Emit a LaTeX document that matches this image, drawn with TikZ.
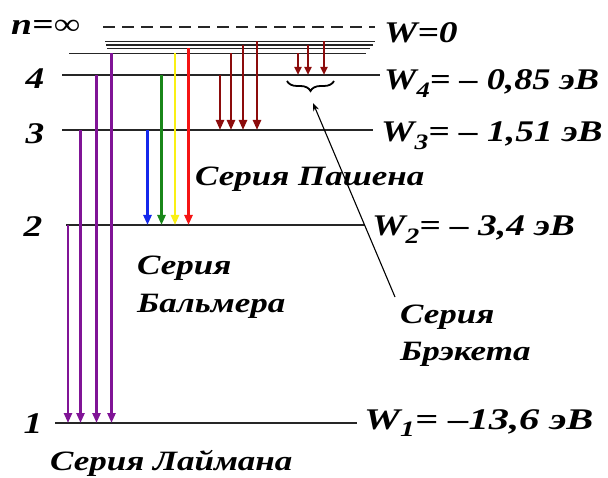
\documentclass[tikz,border=0pt]{standalone}
\usepackage{fontspec}
\setmainfont[FakeStretch=1.25]{Liberation Serif}
\usetikzlibrary{arrows.meta,decorations.pathreplacing}
\newcommand{\wsub}[1]{W\raisebox{-0.24em}{\fontsize{22}{22}\selectfont #1}}
\definecolor{lymanc}{RGB}{128,20,150}
\definecolor{paschc}{RGB}{140,12,12}
\definecolor{balb}{RGB}{20,40,235}
\definecolor{balg}{RGB}{25,135,25}
\definecolor{baly}{RGB}{250,240,20}
\definecolor{balr}{RGB}{245,20,20}
\begin{document}
\begin{tikzpicture}[x=1pt,y=-1pt,
  level/.style={line width=2pt,black!85},
  thin level/.style={line width=1.6pt,black!85},
  lab/.style={font=\fontsize{30}{30}\selectfont\bfseries\itshape, inner sep=0pt},
  ser/.style={font=\fontsize{28}{28}\selectfont\bfseries\itshape, inner sep=0pt},
  tr/.style={line width=2.4pt,-{Triangle[width=8pt,length=10pt]}},
  trs/.style={line width=2.2pt,-{Triangle[width=7pt,length=8pt]}},
]
\useasboundingbox (0,0) rectangle (608,478);
% levels
\draw[level, dash pattern=on 12pt off 7pt] (103,27) -- (375,27);
\draw[thin level] (105,41.5) -- (375,41.5);
\draw[thin level] (106,45) -- (373,45);
\draw[thin level] (107,48.5) -- (370,48.5);
\draw[thin level] (69,53.5) -- (366,53.5);
\draw[level] (62,75) -- (380,75);
\draw[level] (62,130) -- (373,130);
\draw[level] (66,225) -- (365,225);
\draw[level] (55,423) -- (357,423);
% Lyman
\draw[tr,lymanc] (68,225) -- (68,423);
\draw[tr,lymanc] (80.5,130) -- (80.5,423);
\draw[tr,lymanc] (96.5,75) -- (96.5,423);
\draw[tr,lymanc] (111.5,53.5) -- (111.5,423);
% Balmer
\draw[tr,balb] (147.5,130) -- (147.5,225);
\draw[tr,balg] (161.5,75) -- (161.5,225);
\draw[tr,baly] (175,53.5) -- (175,225);
\draw[tr,balr] (188.5,48.5) -- (188.5,225);
% Paschen
\draw[tr,paschc] (220,75) -- (220,130);
\draw[tr,paschc] (231,53.5) -- (231,130);
\draw[tr,paschc] (243,45) -- (243,130);
\draw[tr,paschc] (257,41.5) -- (257,130);
% Brackett
\draw[trs,paschc] (298,53.5) -- (298,75);
\draw[trs,paschc] (308,45) -- (308,75);
\draw[trs,paschc] (324,41.5) -- (324,75);
\draw[line width=1.8pt, decorate, decoration={brace, amplitude=10pt}] (334,81) -- (287,81);
% left labels
\node[lab,anchor=base west] (ninf) at (11,35) {n=∞};
\node[lab,anchor=base] (n4) at (35,89) {4};
\node[lab,anchor=base] (n3) at (35,144) {3};
\node[lab,anchor=base] (n2) at (33,237) {2};
\node[lab,anchor=base] (n1) at (33,433) {1};
% right labels
\node[lab,anchor=base west] (w0) at (384,43) {W=0};
\node[lab,anchor=base west] (w4) at (384,90) {\scalebox{0.97}[1]{\wsub{4}= – 0,85 эВ}};
\node[lab,anchor=base west] (w3) at (381,142) {\wsub{3}= – 1,51 эВ};
\node[lab,anchor=base west] (w2) at (372,236) {\wsub{2}= – 3,4 эВ};
\node[lab,anchor=base west] (w1) at (364,429) {\scalebox{1.08}[1]{\wsub{1}= –13,6 эВ}};
% series
\node[ser,anchor=base west] (pas) at (195,186) {Серия Пашена};
\node[ser,anchor=base west] (bal1) at (137,275) {Серия};
\node[ser,anchor=base west] (bal2) at (137,313) {Бальмера};
\node[ser,anchor=base west] (bre1) at (400,324) {Серия};
\node[ser,anchor=base west] (bre2) at (400,360) {Брэкета};
\node[ser,anchor=base west] (lay) at (50,470) {Серия Лаймана};
\coordinate (brs) at (395,297);
\coordinate (brtip) at (313,103);
\draw[line width=1.1pt,-{Stealth[width=6pt,length=8pt]}] (brs) -- (brtip);
\end{tikzpicture}
\end{document}
